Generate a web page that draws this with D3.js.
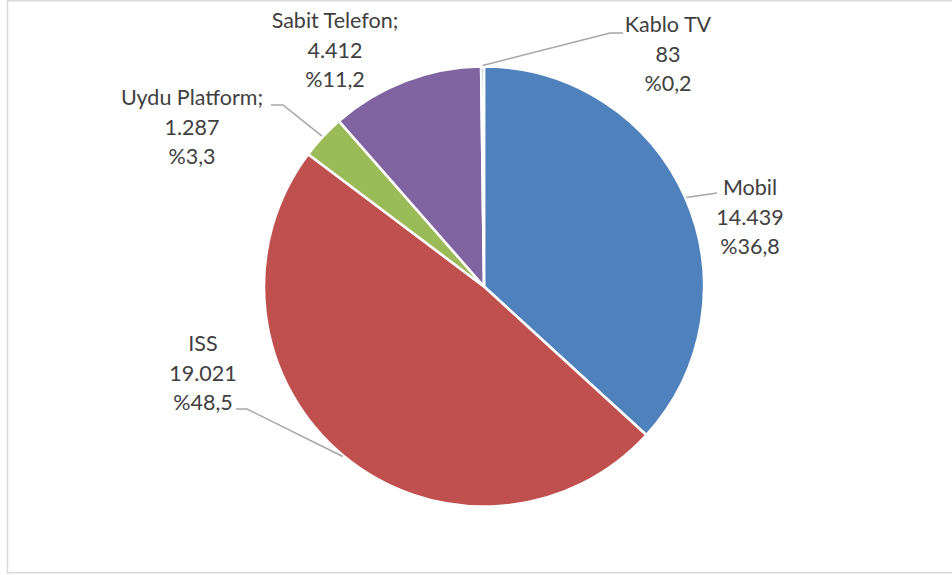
<!DOCTYPE html>
<html>
<head>
<meta charset="utf-8">
<script src="https://cdn.jsdelivr.net/npm/d3@7"></script>
<style>
  html, body { margin: 0; padding: 0; background: #fff; }
  svg { display: block; }
</style>
</head>
<body>
<div id="chart"></div>
<script>
// data
const categories = ["Mobil", "ISS", "Uydu Platform", "Sabit Telefon", "Kablo TV"];
const values = [14439, 19021, 1287, 4412, 83];
const colors = ["#4F81BD", "#C0504D", "#9BBB59", "#8064A2", "#4BACC6"];

// label layout (excel-style manual placement)
const labelLayout = {
  "Mobil":         { x: 750, y: 195, sep: "",  leader: [[717, 193]] },
  "ISS":           { x: 203, y: 351, sep: "",  leader: [[247, 409], [236, 409]] },
  "Uydu Platform": { x: 192, y: 105, sep: ";", leader: [[283, 105], [271, 105]] },
  "Sabit Telefon": { x: 335, y: 28,  sep: ";", leader: null },
  "Kablo TV":      { x: 668, y: 32,  sep: "",  leader: [[610, 33], [623, 33]] }
};

const width = 952, height = 575;
const cx = 484, cy = 286.5, radius = 220;
const lineH = 29.5;

const svg = d3.select("#chart").append("svg")
    .attr("width", width)
    .attr("height", height);

// chart frame
svg.append("rect")
    .attr("x", 7.5).attr("y", 0.75)
    .attr("width", 960).attr("height", 572)
    .attr("fill", "#fff")
    .attr("stroke", "#d9d9d9")
    .attr("stroke-width", 1.5);

const total = d3.sum(values);
const fmtNum = v => d3.format(",")(v).replace(/,/g, ".");
const fmtPct = v => "%" + d3.format(".1f")(v * 100).replace(".", ",");

const data = categories.map((c, i) => ({ name: c, value: values[i], color: colors[i] }));

const pie = d3.pie().sort(null).value(d => d.value);
const arcs = pie(data);
const arc = d3.arc().innerRadius(0).outerRadius(radius);

const g = svg.append("g").attr("transform", `translate(${cx},${cy})`);

g.selectAll("path")
  .data(arcs)
  .join("path")
    .attr("d", arc)
    .attr("fill", d => d.data.color)
    .attr("stroke", "#fff")
    .attr("stroke-width", 2.5)
    .attr("stroke-linejoin", "round");

// leader lines
svg.append("g")
  .selectAll("polyline")
  .data(arcs.filter(d => labelLayout[d.data.name].leader))
  .join("polyline")
    .attr("points", d => {
      const mid = (d.startAngle + d.endAngle) / 2;
      const p0 = [cx + (radius + 1) * Math.sin(mid), cy - (radius + 1) * Math.cos(mid)];
      return [p0, ...labelLayout[d.data.name].leader].map(p => p.join(",")).join(" ");
    })
    .attr("fill", "none")
    .attr("stroke", "#a6a6a6")
    .attr("stroke-width", 1.5);

// labels
const labels = svg.append("g")
    .attr("font-family", "Lato, 'Open Sans', sans-serif")
    .attr("font-size", 21.5)
    .attr("fill", "#404040")
    .attr("text-anchor", "middle");

arcs.forEach(d => {
  const L = labelLayout[d.data.name];
  const lines = [d.data.name + L.sep, fmtNum(d.data.value), fmtPct(d.data.value / total)];
  const t = labels.append("text").attr("x", L.x).attr("y", L.y);
  lines.forEach((s, i) => {
    t.append("tspan").attr("x", L.x).attr("y", L.y + i * lineH).text(s);
  });
});
</script>
</body>
</html>
